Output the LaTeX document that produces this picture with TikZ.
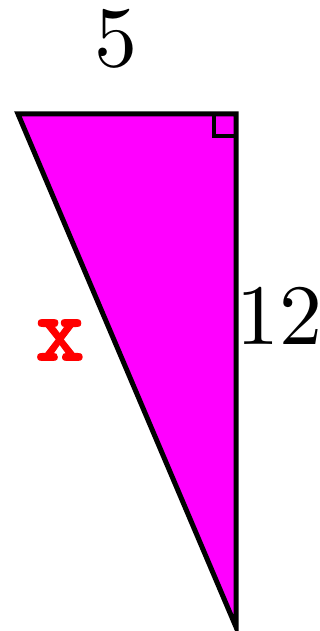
\documentclass[tikz,border=0pt]{standalone}
\usepackage{fontspec}
\newfontfamily\numfont{lmroman10-regular.otf}
\newfontfamily\xfont[FakeBold=1]{lmmonolt10-bold.otf}
\definecolor{tri}{RGB}{255,0,255}
\begin{document}
\begin{tikzpicture}[x=1pt,y=1pt,
  edge/.style={line width=5pt,line join=miter},
  lbl/.style={inner sep=0pt,font=\numfont\fontsize{86}{86}\selectfont},
  xlbl/.style={inner sep=0pt,text=red,font=\xfont\fontsize{94}{94}\selectfont}]
\useasboundingbox (0,0) rectangle (320,631);
\coordinate (A) at (18,517);
\coordinate (B) at (236,517);
\coordinate (C) at (236,4);
\fill[tri] (A) -- (B) -- (C) -- cycle;
\draw[edge] (A) -- (B) -- (C) -- cycle;
\draw[line width=4pt] (214,517) -- (214,495) -- (236,495);
\node[lbl] (five) at (116,592) {5};
\node[lbl] (twelve) at (279,315) {12};
\node[xlbl] (x) at (60,291) {x};
\end{tikzpicture}
\end{document}
